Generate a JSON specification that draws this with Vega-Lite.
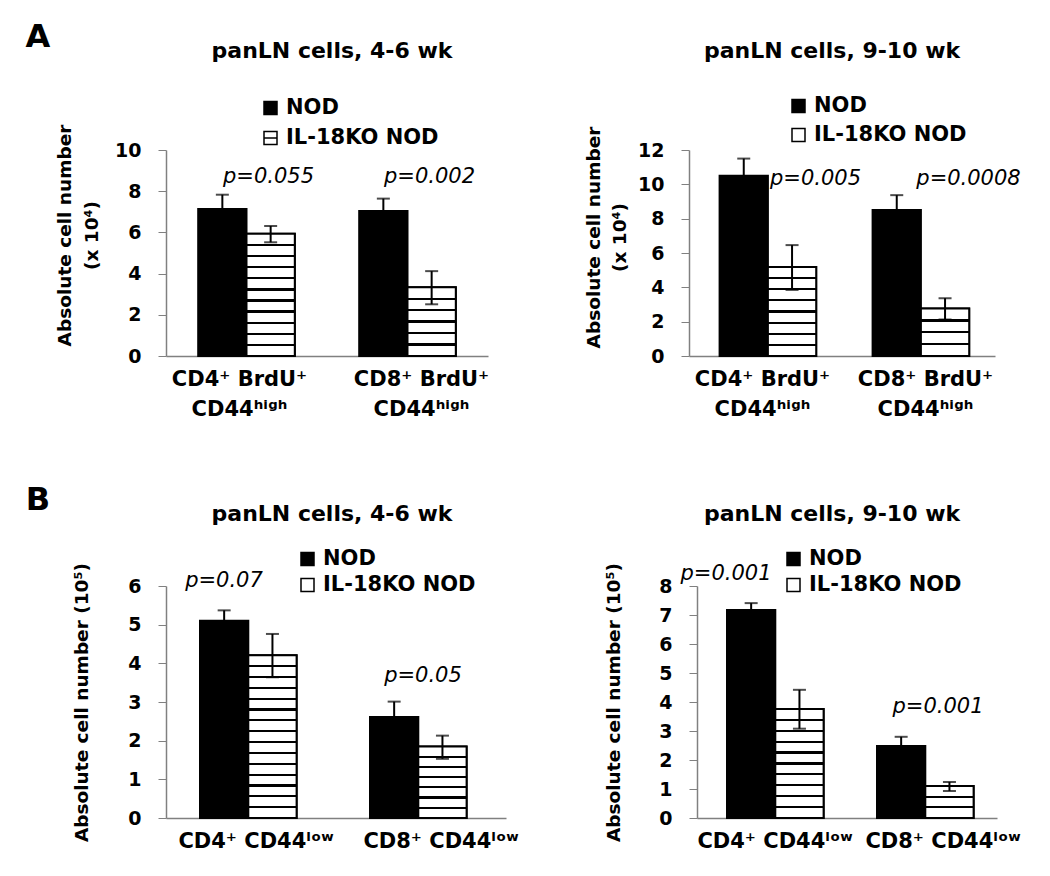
{
  "$schema": "https://vega.github.io/schema/vega-lite/v6.json",
  "autosize": "pad",
  "padding": {"left": 25, "top": 21, "right": 5, "bottom": 5},
  "background": "white",
  "resolve": {"scale": {"color": "independent"}, "legend": {"color": "independent"}},
  "datasets": {
    "aL": [
      {"cell": "CD4⁺ BrdU⁺|CD44ʰⁱᵍʰ", "series": "NOD", "value": 7.14, "lo": 6.45, "hi": 7.83},
      {"cell": "CD4⁺ BrdU⁺|CD44ʰⁱᵍʰ", "series": "IL-18KO NOD", "value": 5.93, "lo": 5.52, "hi": 6.31},
      {"cell": "CD8⁺ BrdU⁺|CD44ʰⁱᵍʰ", "series": "NOD", "value": 7.04, "lo": 6.44, "hi": 7.64},
      {"cell": "CD8⁺ BrdU⁺|CD44ʰⁱᵍʰ", "series": "IL-18KO NOD", "value": 3.34, "lo": 2.51, "hi": 4.12}
    ],
    "aR": [
      {"cell": "CD4⁺ BrdU⁺|CD44ʰⁱᵍʰ", "series": "NOD", "value": 10.5, "lo": 9.5, "hi": 11.5},
      {"cell": "CD4⁺ BrdU⁺|CD44ʰⁱᵍʰ", "series": "IL-18KO NOD", "value": 5.18, "lo": 3.85, "hi": 6.46},
      {"cell": "CD8⁺ BrdU⁺|CD44ʰⁱᵍʰ", "series": "NOD", "value": 8.51, "lo": 7.65, "hi": 9.37},
      {"cell": "CD8⁺ BrdU⁺|CD44ʰⁱᵍʰ", "series": "IL-18KO NOD", "value": 2.76, "lo": 2.13, "hi": 3.37}
    ],
    "bL": [
      {"cell": "CD4⁺ CD44ˡᵒʷ", "series": "NOD", "value": 5.10, "lo": 4.83, "hi": 5.37},
      {"cell": "CD4⁺ CD44ˡᵒʷ", "series": "IL-18KO NOD", "value": 4.21, "lo": 3.64, "hi": 4.76},
      {"cell": "CD8⁺ CD44ˡᵒʷ", "series": "NOD", "value": 2.61, "lo": 2.21, "hi": 3.01},
      {"cell": "CD8⁺ CD44ˡᵒʷ", "series": "IL-18KO NOD", "value": 1.85, "lo": 1.53, "hi": 2.13}
    ],
    "bR": [
      {"cell": "CD4⁺ CD44ˡᵒʷ", "series": "NOD", "value": 7.17, "lo": 6.93, "hi": 7.41},
      {"cell": "CD4⁺ CD44ˡᵒʷ", "series": "IL-18KO NOD", "value": 3.76, "lo": 3.08, "hi": 4.42},
      {"cell": "CD8⁺ CD44ˡᵒʷ", "series": "NOD", "value": 2.48, "lo": 2.16, "hi": 2.80},
      {"cell": "CD8⁺ CD44ˡᵒʷ", "series": "IL-18KO NOD", "value": 1.10, "lo": 0.93, "hi": 1.24}
    ],
    "pAL": [
      {"cell": "CD4⁺ BrdU⁺|CD44ʰⁱᵍʰ", "p": "p=0.055", "py": 8.7},
      {"cell": "CD8⁺ BrdU⁺|CD44ʰⁱᵍʰ", "p": "p=0.002", "py": 8.7}
    ],
    "pAR": [
      {"cell": "CD4⁺ BrdU⁺|CD44ʰⁱᵍʰ", "p": "p=0.005", "py": 10.3},
      {"cell": "CD8⁺ BrdU⁺|CD44ʰⁱᵍʰ", "p": "p=0.0008", "py": 10.3}
    ],
    "pBL": [
      {"cell": "CD4⁺ CD44ˡᵒʷ", "p": "p=0.07", "py": 6.13},
      {"cell": "CD8⁺ CD44ˡᵒʷ", "p": "p=0.05", "py": 3.66}
    ],
    "pBR": [
      {"cell": "CD4⁺ CD44ˡᵒʷ", "p": "p=0.001", "py": 8.43},
      {"cell": "CD8⁺ CD44ˡᵒʷ", "p": "p=0.001", "py": 3.84}
    ]
  },
  "spacing": 65,
  "vconcat": [
    {
      "title": {"text": "A", "anchor": "start", "fontSize": 32, "offset": -14, "dx": -30},
      "spacing": 95,
      "resolve": {"scale": {"color": "independent"}, "legend": {"color": "independent"}},
      "hconcat": [
        {
          "width": 322, "height": 206,
          "title": {"text": "panLN cells, 4-6 wk", "offset": 34.5, "dx": 5},
          "data": {"name": "aL"},
          "encoding": {"x": {"field": "cell", "type": "nominal", "scale": {"paddingInner": 0.4, "paddingOuter": 0.2},
            "axis": {"title": null, "labelExpr": "split(datum.label, '|')", "labelOffset": {"condition": {"test": "indexof(datum.value, 'CD8') === 0", "value": 14}, "value": -7}}}},
          "layer": [
            {"mark": {"type": "bar", "stroke": "#000", "strokeWidth": 2},
             "encoding": {
               "xOffset": {"field": "series", "sort": ["NOD", "IL-18KO NOD"]},
               "y": {"field": "value", "type": "quantitative", "scale": {"domain": [0, 10]},
                     "axis": {"values": [0, 2, 4, 6, 8, 10], "tickCount": 20, "format": "d", "title": ["Absolute cell number", "(x 10⁴)"], "titleLineHeight": 27, "titlePadding": 13, "titleY": 85}},
               "color": {"field": "series", "type": "nominal", "scale": {"domain": ["NOD", "IL-18KO NOD"], "range": ["#000000", "#ffffff"]},
                         "legend": {"title": null, "orient": "none", "legendX": 94, "legendY": -52.5, "rowPadding": 8, "symbolType": "M-1,-1H1V1H-1Z M-1,0H1"}}
             }},
            {"transform": [{"filter": "datum.series !== 'NOD'"}],
             "mark": {"type": "bar", "stroke": "#000", "strokeWidth": 2},
             "encoding": {
               "xOffset": {"field": "series", "sort": ["NOD", "IL-18KO NOD"]},
               "y": {"field": "value", "type": "quantitative"},
               "fill": {"condition": {"test": "indexof(datum.cell, 'CD4') === 0", "value": {"gradient": "linear", "x1": 0, "y1": 0, "x2": 0, "y2": 1, "stops": [
                 {"offset": 0, "color": "#ffffff"},
                 {"offset": 0.082, "color": "#ffffff"}, {"offset": 0.082, "color": "#000000"}, {"offset": 0.1, "color": "#000000"}, {"offset": 0.1, "color": "#ffffff"},
                 {"offset": 0.173, "color": "#ffffff"}, {"offset": 0.173, "color": "#000000"}, {"offset": 0.191, "color": "#000000"}, {"offset": 0.191, "color": "#ffffff"},
                 {"offset": 0.264, "color": "#ffffff"}, {"offset": 0.264, "color": "#000000"}, {"offset": 0.282, "color": "#000000"}, {"offset": 0.282, "color": "#ffffff"},
                 {"offset": 0.355, "color": "#ffffff"}, {"offset": 0.355, "color": "#000000"}, {"offset": 0.373, "color": "#000000"}, {"offset": 0.373, "color": "#ffffff"},
                 {"offset": 0.446, "color": "#ffffff"}, {"offset": 0.446, "color": "#000000"}, {"offset": 0.464, "color": "#000000"}, {"offset": 0.464, "color": "#ffffff"},
                 {"offset": 0.537, "color": "#ffffff"}, {"offset": 0.537, "color": "#000000"}, {"offset": 0.555, "color": "#000000"}, {"offset": 0.555, "color": "#ffffff"},
                 {"offset": 0.627, "color": "#ffffff"}, {"offset": 0.627, "color": "#000000"}, {"offset": 0.645, "color": "#000000"}, {"offset": 0.645, "color": "#ffffff"},
                 {"offset": 0.718, "color": "#ffffff"}, {"offset": 0.718, "color": "#000000"}, {"offset": 0.736, "color": "#000000"}, {"offset": 0.736, "color": "#ffffff"},
                 {"offset": 0.809, "color": "#ffffff"}, {"offset": 0.809, "color": "#000000"}, {"offset": 0.827, "color": "#000000"}, {"offset": 0.827, "color": "#ffffff"},
                 {"offset": 0.9, "color": "#ffffff"}, {"offset": 0.9, "color": "#000000"}, {"offset": 0.918, "color": "#000000"}, {"offset": 0.918, "color": "#ffffff"},
                 {"offset": 1, "color": "#ffffff"}]}},
                 "value": {"gradient": "linear", "x1": 0, "y1": 0, "x2": 0, "y2": 1, "stops": [
                 {"offset": 0, "color": "#ffffff"},
                 {"offset": 0.151, "color": "#ffffff"}, {"offset": 0.151, "color": "#000000"}, {"offset": 0.183, "color": "#000000"}, {"offset": 0.183, "color": "#ffffff"},
                 {"offset": 0.317, "color": "#ffffff"}, {"offset": 0.317, "color": "#000000"}, {"offset": 0.349, "color": "#000000"}, {"offset": 0.349, "color": "#ffffff"},
                 {"offset": 0.484, "color": "#ffffff"}, {"offset": 0.484, "color": "#000000"}, {"offset": 0.516, "color": "#000000"}, {"offset": 0.516, "color": "#ffffff"},
                 {"offset": 0.651, "color": "#ffffff"}, {"offset": 0.651, "color": "#000000"}, {"offset": 0.683, "color": "#000000"}, {"offset": 0.683, "color": "#ffffff"},
                 {"offset": 0.817, "color": "#ffffff"}, {"offset": 0.817, "color": "#000000"}, {"offset": 0.849, "color": "#000000"}, {"offset": 0.849, "color": "#ffffff"},
                 {"offset": 1, "color": "#ffffff"}]}}
             }},
            {"mark": {"type": "rule", "color": "#000", "strokeWidth": 2},
             "encoding": {"xOffset": {"field": "series", "sort": ["NOD", "IL-18KO NOD"]}, "y": {"field": "lo", "type": "quantitative"}, "y2": {"field": "hi"}}},
            {"mark": {"type": "tick", "color": "#000", "size": 13, "thickness": 2},
             "encoding": {"xOffset": {"field": "series", "sort": ["NOD", "IL-18KO NOD"]}, "y": {"field": "hi", "type": "quantitative"}}},
            {"mark": {"type": "tick", "color": "#000", "size": 13, "thickness": 2},
             "encoding": {"xOffset": {"field": "series", "sort": ["NOD", "IL-18KO NOD"]}, "y": {"field": "lo", "type": "quantitative"}}},
            {"data": {"name": "pAL"},
             "mark": {"type": "text", "font": "DejaVu Sans", "fontSize": 21, "fontStyle": "italic", "baseline": "middle", "color": "#000", "dx": 22},
             "encoding": {"y": {"field": "py", "type": "quantitative"}, "text": {"field": "p"}}}
          ]
        },
        {
          "width": 306, "height": 206,
          "title": {"text": "panLN cells, 9-10 wk", "offset": 32.5, "dx": -10},
          "data": {"name": "aR"},
          "encoding": {"x": {"field": "cell", "type": "nominal", "scale": {"paddingInner": 0.4, "paddingOuter": 0.2},
            "axis": {"title": null, "labelExpr": "split(datum.label, '|')", "labelOffset": {"condition": {"test": "indexof(datum.value, 'CD8') === 0", "value": 7}, "value": -3}}}},
          "layer": [
            {"mark": {"type": "bar", "stroke": "#000", "strokeWidth": 2},
             "encoding": {
               "xOffset": {"field": "series", "sort": ["NOD", "IL-18KO NOD"]},
               "y": {"field": "value", "type": "quantitative", "scale": {"domain": [0, 12]},
                     "axis": {"values": [0, 2, 4, 6, 8, 10, 12], "tickCount": 20, "format": "d", "title": ["Absolute cell number", "(x 10⁴)"], "titleLineHeight": 26, "titlePadding": 8, "titleY": 87}},
               "color": {"field": "series", "type": "nominal", "scale": {"domain": ["NOD", "IL-18KO NOD"], "range": ["#000000", "#ffffff"]},
                         "legend": {"title": null, "orient": "none", "legendX": 99, "legendY": -54.5, "rowPadding": 7, "symbolType": "square"}}
             }},
            {"transform": [{"filter": "datum.series !== 'NOD'"}],
             "mark": {"type": "bar", "stroke": "#000", "strokeWidth": 2},
             "encoding": {
               "xOffset": {"field": "series", "sort": ["NOD", "IL-18KO NOD"]},
               "y": {"field": "value", "type": "quantitative"},
               "fill": {"condition": {"test": "indexof(datum.cell, 'CD4') === 0", "value": {"gradient": "linear", "x1": 0, "y1": 0, "x2": 0, "y2": 1, "stops": [
                 {"offset": 0, "color": "#ffffff"},
                 {"offset": 0.113, "color": "#ffffff"}, {"offset": 0.113, "color": "#000000"}, {"offset": 0.137, "color": "#000000"}, {"offset": 0.137, "color": "#ffffff"},
                 {"offset": 0.238, "color": "#ffffff"}, {"offset": 0.238, "color": "#000000"}, {"offset": 0.262, "color": "#000000"}, {"offset": 0.262, "color": "#ffffff"},
                 {"offset": 0.363, "color": "#ffffff"}, {"offset": 0.363, "color": "#000000"}, {"offset": 0.387, "color": "#000000"}, {"offset": 0.387, "color": "#ffffff"},
                 {"offset": 0.488, "color": "#ffffff"}, {"offset": 0.488, "color": "#000000"}, {"offset": 0.512, "color": "#000000"}, {"offset": 0.512, "color": "#ffffff"},
                 {"offset": 0.613, "color": "#ffffff"}, {"offset": 0.613, "color": "#000000"}, {"offset": 0.637, "color": "#000000"}, {"offset": 0.637, "color": "#ffffff"},
                 {"offset": 0.738, "color": "#ffffff"}, {"offset": 0.738, "color": "#000000"}, {"offset": 0.762, "color": "#000000"}, {"offset": 0.762, "color": "#ffffff"},
                 {"offset": 0.863, "color": "#ffffff"}, {"offset": 0.863, "color": "#000000"}, {"offset": 0.887, "color": "#000000"}, {"offset": 0.887, "color": "#ffffff"},
                 {"offset": 1, "color": "#ffffff"}]}},
                 "value": {"gradient": "linear", "x1": 0, "y1": 0, "x2": 0, "y2": 1, "stops": [
                 {"offset": 0, "color": "#ffffff"},
                 {"offset": 0.227, "color": "#ffffff"}, {"offset": 0.227, "color": "#000000"}, {"offset": 0.273, "color": "#000000"}, {"offset": 0.273, "color": "#ffffff"},
                 {"offset": 0.477, "color": "#ffffff"}, {"offset": 0.477, "color": "#000000"}, {"offset": 0.523, "color": "#000000"}, {"offset": 0.523, "color": "#ffffff"},
                 {"offset": 0.727, "color": "#ffffff"}, {"offset": 0.727, "color": "#000000"}, {"offset": 0.773, "color": "#000000"}, {"offset": 0.773, "color": "#ffffff"},
                 {"offset": 1, "color": "#ffffff"}]}}
             }},
            {"mark": {"type": "rule", "color": "#000", "strokeWidth": 2},
             "encoding": {"xOffset": {"field": "series", "sort": ["NOD", "IL-18KO NOD"]}, "y": {"field": "lo", "type": "quantitative"}, "y2": {"field": "hi"}}},
            {"mark": {"type": "tick", "color": "#000", "size": 13, "thickness": 2},
             "encoding": {"xOffset": {"field": "series", "sort": ["NOD", "IL-18KO NOD"]}, "y": {"field": "hi", "type": "quantitative"}}},
            {"mark": {"type": "tick", "color": "#000", "size": 13, "thickness": 2},
             "encoding": {"xOffset": {"field": "series", "sort": ["NOD", "IL-18KO NOD"]}, "y": {"field": "lo", "type": "quantitative"}}},
            {"data": {"name": "pAR"},
             "mark": {"type": "text", "font": "DejaVu Sans", "fontSize": 21, "fontStyle": "italic", "baseline": "middle", "color": "#000", "dx": 50},
             "encoding": {"y": {"field": "py", "type": "quantitative"}, "text": {"field": "p"}}}
          ]
        }
      ]
    },
    {
      "title": {"text": "B", "anchor": "start", "fontSize": 32, "offset": -14, "dx": -47},
      "spacing": 85,
      "resolve": {"scale": {"color": "independent"}, "legend": {"color": "independent"}},
      "hconcat": [
        {
          "width": 340, "height": 232,
          "title": {"text": "panLN cells, 4-6 wk", "offset": 22.5, "dx": -4},
          "data": {"name": "bL"},
          "encoding": {"x": {"field": "cell", "type": "nominal", "scale": {"paddingInner": 0.4, "paddingOuter": 0.2},
            "axis": {"title": null, "labelOffset": {"condition": {"test": "indexof(datum.value, 'CD8') === 0", "value": 20}, "value": 5}}}},
          "layer": [
            {"mark": {"type": "bar", "stroke": "#000", "strokeWidth": 2},
             "encoding": {
               "xOffset": {"field": "series", "sort": ["NOD", "IL-18KO NOD"]},
               "y": {"field": "value", "type": "quantitative", "scale": {"domain": [0, 6]},
                     "axis": {"values": [0, 1, 2, 3, 4, 5, 6], "tickCount": 20, "format": "d", "title": "Absolute cell number  (10⁵)", "titlePadding": 36}},
               "color": {"field": "series", "type": "nominal", "scale": {"domain": ["NOD", "IL-18KO NOD"], "range": ["#000000", "#ffffff"]},
                         "legend": {"title": null, "orient": "none", "legendX": 131, "legendY": -37.5, "rowPadding": 4, "symbolType": "square"}}
             }},
            {"transform": [{"filter": "datum.series !== 'NOD'"}],
             "mark": {"type": "bar", "stroke": "#000", "strokeWidth": 2},
             "encoding": {
               "xOffset": {"field": "series", "sort": ["NOD", "IL-18KO NOD"]},
               "y": {"field": "value", "type": "quantitative"},
               "fill": {"condition": {"test": "indexof(datum.cell, 'CD4') === 0", "value": {"gradient": "linear", "x1": 0, "y1": 0, "x2": 0, "y2": 1, "stops": [
                 {"offset": 0, "color": "#ffffff"},
                 {"offset": 0.06, "color": "#ffffff"}, {"offset": 0.06, "color": "#000000"}, {"offset": 0.073, "color": "#000000"}, {"offset": 0.073, "color": "#ffffff"},
                 {"offset": 0.127, "color": "#ffffff"}, {"offset": 0.127, "color": "#000000"}, {"offset": 0.14, "color": "#000000"}, {"offset": 0.14, "color": "#ffffff"},
                 {"offset": 0.193, "color": "#ffffff"}, {"offset": 0.193, "color": "#000000"}, {"offset": 0.207, "color": "#000000"}, {"offset": 0.207, "color": "#ffffff"},
                 {"offset": 0.26, "color": "#ffffff"}, {"offset": 0.26, "color": "#000000"}, {"offset": 0.273, "color": "#000000"}, {"offset": 0.273, "color": "#ffffff"},
                 {"offset": 0.327, "color": "#ffffff"}, {"offset": 0.327, "color": "#000000"}, {"offset": 0.34, "color": "#000000"}, {"offset": 0.34, "color": "#ffffff"},
                 {"offset": 0.393, "color": "#ffffff"}, {"offset": 0.393, "color": "#000000"}, {"offset": 0.407, "color": "#000000"}, {"offset": 0.407, "color": "#ffffff"},
                 {"offset": 0.46, "color": "#ffffff"}, {"offset": 0.46, "color": "#000000"}, {"offset": 0.473, "color": "#000000"}, {"offset": 0.473, "color": "#ffffff"},
                 {"offset": 0.527, "color": "#ffffff"}, {"offset": 0.527, "color": "#000000"}, {"offset": 0.54, "color": "#000000"}, {"offset": 0.54, "color": "#ffffff"},
                 {"offset": 0.593, "color": "#ffffff"}, {"offset": 0.593, "color": "#000000"}, {"offset": 0.607, "color": "#000000"}, {"offset": 0.607, "color": "#ffffff"},
                 {"offset": 0.66, "color": "#ffffff"}, {"offset": 0.66, "color": "#000000"}, {"offset": 0.673, "color": "#000000"}, {"offset": 0.673, "color": "#ffffff"},
                 {"offset": 0.727, "color": "#ffffff"}, {"offset": 0.727, "color": "#000000"}, {"offset": 0.74, "color": "#000000"}, {"offset": 0.74, "color": "#ffffff"},
                 {"offset": 0.793, "color": "#ffffff"}, {"offset": 0.793, "color": "#000000"}, {"offset": 0.807, "color": "#000000"}, {"offset": 0.807, "color": "#ffffff"},
                 {"offset": 0.86, "color": "#ffffff"}, {"offset": 0.86, "color": "#000000"}, {"offset": 0.873, "color": "#000000"}, {"offset": 0.873, "color": "#ffffff"},
                 {"offset": 0.927, "color": "#ffffff"}, {"offset": 0.927, "color": "#000000"}, {"offset": 0.94, "color": "#000000"}, {"offset": 0.94, "color": "#ffffff"},
                 {"offset": 1, "color": "#ffffff"}]}},
                 "value": {"gradient": "linear", "x1": 0, "y1": 0, "x2": 0, "y2": 1, "stops": [
                 {"offset": 0, "color": "#ffffff"},
                 {"offset": 0.127, "color": "#ffffff"}, {"offset": 0.127, "color": "#000000"}, {"offset": 0.158, "color": "#000000"}, {"offset": 0.158, "color": "#ffffff"},
                 {"offset": 0.27, "color": "#ffffff"}, {"offset": 0.27, "color": "#000000"}, {"offset": 0.301, "color": "#000000"}, {"offset": 0.301, "color": "#ffffff"},
                 {"offset": 0.413, "color": "#ffffff"}, {"offset": 0.413, "color": "#000000"}, {"offset": 0.444, "color": "#000000"}, {"offset": 0.444, "color": "#ffffff"},
                 {"offset": 0.556, "color": "#ffffff"}, {"offset": 0.556, "color": "#000000"}, {"offset": 0.587, "color": "#000000"}, {"offset": 0.587, "color": "#ffffff"},
                 {"offset": 0.699, "color": "#ffffff"}, {"offset": 0.699, "color": "#000000"}, {"offset": 0.73, "color": "#000000"}, {"offset": 0.73, "color": "#ffffff"},
                 {"offset": 0.842, "color": "#ffffff"}, {"offset": 0.842, "color": "#000000"}, {"offset": 0.873, "color": "#000000"}, {"offset": 0.873, "color": "#ffffff"},
                 {"offset": 1, "color": "#ffffff"}]}}
             }},
            {"mark": {"type": "rule", "color": "#000", "strokeWidth": 2},
             "encoding": {"xOffset": {"field": "series", "sort": ["NOD", "IL-18KO NOD"]}, "y": {"field": "lo", "type": "quantitative"}, "y2": {"field": "hi"}}},
            {"mark": {"type": "tick", "color": "#000", "size": 13, "thickness": 2},
             "encoding": {"xOffset": {"field": "series", "sort": ["NOD", "IL-18KO NOD"]}, "y": {"field": "hi", "type": "quantitative"}}},
            {"mark": {"type": "tick", "color": "#000", "size": 13, "thickness": 2},
             "encoding": {"xOffset": {"field": "series", "sort": ["NOD", "IL-18KO NOD"]}, "y": {"field": "lo", "type": "quantitative"}}},
            {"data": {"name": "pBL"},
             "transform": [{"filter": "indexof(datum.cell, 'CD4') === 0"}],
             "mark": {"type": "text", "font": "DejaVu Sans", "fontSize": 21, "fontStyle": "italic", "baseline": "middle", "color": "#000", "dx": -27},
             "encoding": {"y": {"field": "py", "type": "quantitative"}, "text": {"field": "p"}}},
            {"data": {"name": "pBL"},
             "transform": [{"filter": "indexof(datum.cell, 'CD8') === 0"}],
             "mark": {"type": "text", "font": "DejaVu Sans", "fontSize": 21, "fontStyle": "italic", "baseline": "middle", "color": "#000", "dx": 2},
             "encoding": {"y": {"field": "py", "type": "quantitative"}, "text": {"field": "p"}}}
          ]
        },
        {
          "width": 300, "height": 232,
          "title": {"text": "panLN cells, 9-10 wk", "offset": 22.5, "dx": -15},
          "data": {"name": "bR"},
          "encoding": {"x": {"field": "cell", "type": "nominal", "scale": {"paddingInner": 0.4, "paddingOuter": 0.2},
            "axis": {"title": null, "labelOffset": {"condition": {"test": "indexof(datum.value, 'CD8') === 0", "value": 21}, "value": 3}}}},
          "layer": [
            {"mark": {"type": "bar", "stroke": "#000", "strokeWidth": 2},
             "encoding": {
               "xOffset": {"field": "series", "sort": ["NOD", "IL-18KO NOD"]},
               "y": {"field": "value", "type": "quantitative", "scale": {"domain": [0, 8]},
                     "axis": {"values": [0, 1, 2, 3, 4, 5, 6, 7, 8], "tickCount": 20, "format": "d", "title": "Absolute cell number  (10⁵)", "titlePadding": 35}},
               "color": {"field": "series", "type": "nominal", "scale": {"domain": ["NOD", "IL-18KO NOD"], "range": ["#000000", "#ffffff"]},
                         "legend": {"title": null, "orient": "none", "legendX": 86, "legendY": -37.5, "rowPadding": 4, "symbolType": "square"}}
             }},
            {"transform": [{"filter": "datum.series !== 'NOD'"}],
             "mark": {"type": "bar", "stroke": "#000", "strokeWidth": 2},
             "encoding": {
               "xOffset": {"field": "series", "sort": ["NOD", "IL-18KO NOD"]},
               "y": {"field": "value", "type": "quantitative"},
               "fill": {"condition": {"test": "indexof(datum.cell, 'CD4') === 0", "value": {"gradient": "linear", "x1": 0, "y1": 0, "x2": 0, "y2": 1, "stops": [
                 {"offset": 0, "color": "#ffffff"},
                 {"offset": 0.09, "color": "#ffffff"}, {"offset": 0.09, "color": "#000000"}, {"offset": 0.11, "color": "#000000"}, {"offset": 0.11, "color": "#ffffff"},
                 {"offset": 0.19, "color": "#ffffff"}, {"offset": 0.19, "color": "#000000"}, {"offset": 0.21, "color": "#000000"}, {"offset": 0.21, "color": "#ffffff"},
                 {"offset": 0.29, "color": "#ffffff"}, {"offset": 0.29, "color": "#000000"}, {"offset": 0.31, "color": "#000000"}, {"offset": 0.31, "color": "#ffffff"},
                 {"offset": 0.39, "color": "#ffffff"}, {"offset": 0.39, "color": "#000000"}, {"offset": 0.41, "color": "#000000"}, {"offset": 0.41, "color": "#ffffff"},
                 {"offset": 0.49, "color": "#ffffff"}, {"offset": 0.49, "color": "#000000"}, {"offset": 0.51, "color": "#000000"}, {"offset": 0.51, "color": "#ffffff"},
                 {"offset": 0.59, "color": "#ffffff"}, {"offset": 0.59, "color": "#000000"}, {"offset": 0.61, "color": "#000000"}, {"offset": 0.61, "color": "#ffffff"},
                 {"offset": 0.69, "color": "#ffffff"}, {"offset": 0.69, "color": "#000000"}, {"offset": 0.71, "color": "#000000"}, {"offset": 0.71, "color": "#ffffff"},
                 {"offset": 0.79, "color": "#ffffff"}, {"offset": 0.79, "color": "#000000"}, {"offset": 0.81, "color": "#000000"}, {"offset": 0.81, "color": "#ffffff"},
                 {"offset": 0.89, "color": "#ffffff"}, {"offset": 0.89, "color": "#000000"}, {"offset": 0.91, "color": "#000000"}, {"offset": 0.91, "color": "#ffffff"},
                 {"offset": 1, "color": "#ffffff"}]}},
                 "value": {"gradient": "linear", "x1": 0, "y1": 0, "x2": 0, "y2": 1, "stops": [
                 {"offset": 0, "color": "#ffffff"},
                 {"offset": 0.299, "color": "#ffffff"}, {"offset": 0.299, "color": "#000000"}, {"offset": 0.368, "color": "#000000"}, {"offset": 0.368, "color": "#ffffff"},
                 {"offset": 0.632, "color": "#ffffff"}, {"offset": 0.632, "color": "#000000"}, {"offset": 0.701, "color": "#000000"}, {"offset": 0.701, "color": "#ffffff"},
                 {"offset": 1, "color": "#ffffff"}]}}
             }},
            {"mark": {"type": "rule", "color": "#000", "strokeWidth": 2},
             "encoding": {"xOffset": {"field": "series", "sort": ["NOD", "IL-18KO NOD"]}, "y": {"field": "lo", "type": "quantitative"}, "y2": {"field": "hi"}}},
            {"mark": {"type": "tick", "color": "#000", "size": 13, "thickness": 2},
             "encoding": {"xOffset": {"field": "series", "sort": ["NOD", "IL-18KO NOD"]}, "y": {"field": "hi", "type": "quantitative"}}},
            {"mark": {"type": "tick", "color": "#000", "size": 13, "thickness": 2},
             "encoding": {"xOffset": {"field": "series", "sort": ["NOD", "IL-18KO NOD"]}, "y": {"field": "lo", "type": "quantitative"}}},
            {"data": {"name": "pBR"},
             "transform": [{"filter": "indexof(datum.cell, 'CD4') === 0"}],
             "mark": {"type": "text", "font": "DejaVu Sans", "fontSize": 21, "fontStyle": "italic", "baseline": "middle", "color": "#000", "dx": -46},
             "encoding": {"y": {"field": "py", "type": "quantitative"}, "text": {"field": "p"}}},
            {"data": {"name": "pBR"},
             "transform": [{"filter": "indexof(datum.cell, 'CD8') === 0"}],
             "mark": {"type": "text", "font": "DejaVu Sans", "fontSize": 21, "fontStyle": "italic", "baseline": "middle", "color": "#000", "dx": 16},
             "encoding": {"y": {"field": "py", "type": "quantitative"}, "text": {"field": "p"}}}
          ]
        }
      ]
    }
  ],
  "config": {
    "view": {"stroke": null},
    "font": "DejaVu Sans",
    "title": {"font": "DejaVu Sans", "fontSize": 22, "fontWeight": "bold", "color": "#000"},
    "axisX": {"ticks": false, "domainColor": "#808080", "domainWidth": 1.5, "labelFont": "DejaVu Sans", "labelFontWeight": "bold", "labelFontSize": 21, "labelColor": "#000", "labelPadding": 12, "labelLineHeight": 30, "labelAngle": 0, "labelLimit": 300, "labelOverlap": false},
    "axisY": {"grid": false, "domainColor": "#808080", "domainWidth": 1.5, "tickColor": "#808080", "tickSize": 8, "labelFont": "DejaVu Sans", "labelFontWeight": "bold", "labelFontSize": 19, "labelColor": "#000", "labelPadding": 17, "labelOverlap": false, "titleFont": "DejaVu Sans", "titleFontWeight": "bold", "titleFontSize": 18.5, "titleColor": "#000"},
    "legend": {"labelFont": "DejaVu Sans", "labelFontWeight": "bold", "labelFontSize": 21, "labelColor": "#000", "symbolSize": 169, "symbolStrokeColor": "#000", "symbolStrokeWidth": 1.5, "symbolOpacity": 1, "labelOffset": 5}
  }
}
